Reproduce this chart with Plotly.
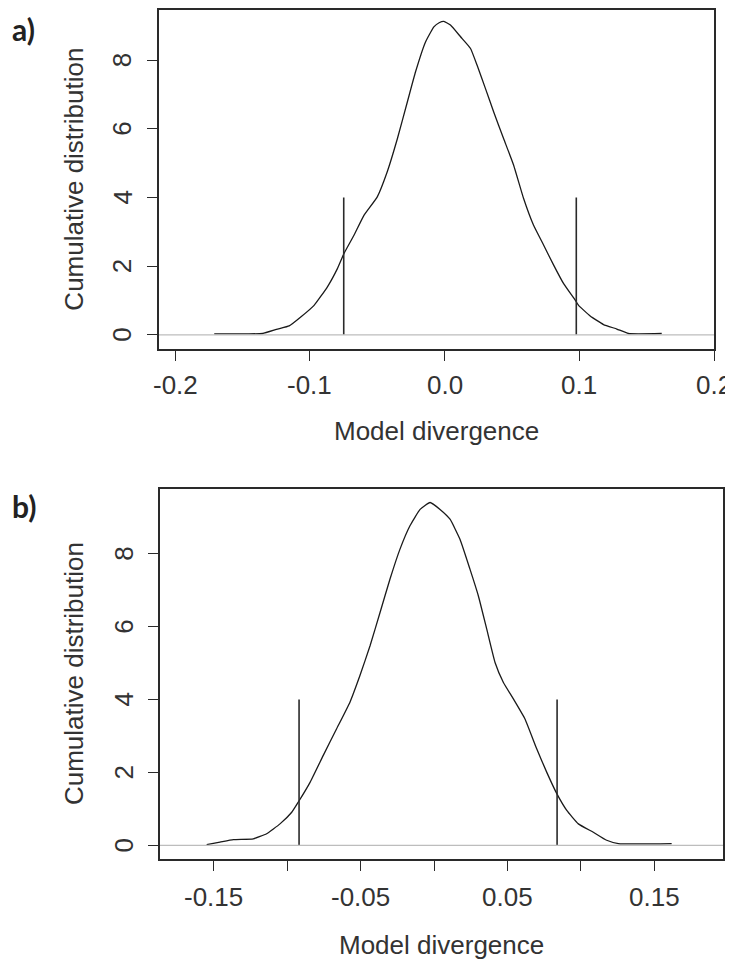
import plotly.graph_objects as go

W, H = 733, 965
OFF = 8  # default page body margin
FW, FH = W - OFF, H - OFF

# ---------------- Data ----------------
a_x = [-0.1709, -0.158, -0.1462, -0.135, -0.1239, -0.1153, -0.1067, -0.0968,
       -0.0869, -0.0795, -0.0746, -0.0672, -0.0598, -0.0499, -0.0425, -0.035, -0.0276, -0.0215,
       -0.0141, -0.0079, -0.0040, -0.0005, 0.0044, 0.0119, 0.0193, 0.0242, 0.0304, 0.0365,
       0.0439, 0.0513, 0.0587, 0.0661, 0.0736, 0.081, 0.0884, 0.097, 0.0995, 0.1081,
       0.118, 0.1279, 0.1365, 0.1612]
a_y = [0.03, 0.03, 0.03, 0.04, 0.17, 0.26, 0.52, 0.86,
       1.40, 1.93, 2.37, 2.90, 3.48, 4.02, 4.75, 5.71, 6.78, 7.66,
       8.53, 8.97, 9.09, 9.13, 9.02, 8.68, 8.34, 7.85, 7.17, 6.49,
       5.71, 4.94, 3.97, 3.19, 2.61, 2.03, 1.49, 1.01, 0.86, 0.55,
       0.30, 0.17, 0.04, 0.04]
a_lines = [-0.0748, 0.0978]
a_line_height = 4

b_x = [-0.155, -0.1459, -0.1368, -0.1232, -0.1141, -0.105, -0.097, -0.0925, -0.0845, -0.0755,
       -0.0664, -0.0573, -0.0505, -0.0436, -0.0368, -0.030, -0.0232, -0.0164, -0.0095, -0.0027,
       0.0041, 0.0109, 0.0177, 0.0245, 0.0302, 0.0359, 0.0416, 0.0473, 0.0541, 0.062,
       0.070, 0.0768, 0.0837, 0.0905, 0.0984, 0.1086, 0.1177, 0.1257, 0.162]
b_y = [0.02, 0.09, 0.16, 0.18, 0.32, 0.59, 0.91, 1.19, 1.73, 2.47,
       3.20, 3.93, 4.66, 5.48, 6.39, 7.31, 8.13, 8.77, 9.22, 9.41,
       9.22, 8.95, 8.40, 7.58, 6.85, 5.94, 5.02, 4.47, 4.02, 3.47,
       2.65, 2.01, 1.42, 0.96, 0.59, 0.36, 0.14, 0.05, 0.05]
b_lines = [-0.092, 0.0839]
b_line_height = 4

a_xticks = [-0.2, -0.1, 0.0, 0.1, 0.2]
a_xticktext = ["-0.2", "-0.1", "0.0", "0.1", "0.2"]
b_xticks = [-0.15, -0.10, -0.05, 0.0, 0.05, 0.10, 0.15]
b_xticktext = ["-0.15", "", "-0.05", "", "0.05", "", "0.15"]
yticks = [0, 2, 4, 6, 8]
yticktext = ["0", "2", "4", "6", "8"]

x_title = "Model divergence"
y_title = "Cumulative distribution"
panel_labels = ["a)", "b)"]

# ---------------- Layout geometry (page pixels) ----------------
boxes = {
    "a": dict(l=159, r=714, t=8, b=348, xr=[-0.2119, 0.2], yr=[-0.42, 9.46],
              xtick_y=384, ytick_x=122, xtitle_y=430, ytitle_x=74, lab=(23, 27)),
    "b": dict(l=160, r=723, t=488, b=859, xr=[-0.1868, 0.197], yr=[-0.38, 9.78],
              xtick_y=897, ytick_x=124, xtitle_y=945, ytitle_x=74, lab=(24, 505)),
}

def px(x):
    return min(1, max(0, (x - OFF) / FW))

def py(y):
    return min(1, max(0, 1 - (y - OFF) / FH))

TXT = "#333333"
LINE = "#2a2a2a"
FONT = "Liberation Sans, Arial, sans-serif"
FS = 26

fig = go.Figure()
ann = []

def add_panel(key, xs, ys, vlines, vh, xticks, xtext, xa, ya, lab):
    xref = "x" if xa == "xaxis" else "x2"
    yref = "y" if ya == "yaxis" else "y2"
    bx = boxes[key]
    fig.add_trace(go.Scatter(x=xs, y=ys, mode="lines",
                             line=dict(color="#1a1a1a", width=1.3, shape="spline", smoothing=0.4),
                             xaxis=xref, yaxis=yref, showlegend=False, hoverinfo="skip"))
    for v in vlines:
        fig.add_trace(go.Scatter(x=[v, v], y=[0, vh], mode="lines",
                                 line=dict(color=LINE, width=1.6),
                                 xaxis=xref, yaxis=yref, showlegend=False, hoverinfo="skip"))
    fig.add_shape(type="line", xref=f"{xref} domain", yref=yref, x0=0, x1=1, y0=0, y1=0,
                  line=dict(color="#bdbdbd", width=1.3), layer="above")
    axcommon = dict(showgrid=False, zeroline=False, showline=True, mirror=True,
                    linecolor=LINE, linewidth=1.6, ticks="outside", ticklen=10,
                    tickwidth=1.4, tickcolor=LINE, showticklabels=False)
    fig.update_layout(**{
        xa: dict(domain=[px(bx["l"]), px(bx["r"])], range=bx["xr"], anchor=yref,
                 tickvals=xticks, **axcommon),
        ya: dict(domain=[py(bx["b"]), py(bx["t"])], range=bx["yr"], anchor=xref,
                 tickvals=yticks, **axcommon),
    })
    for v, t in zip(xticks, xtext):
        if t:
            ann.append(dict(text=t, x=v, y=py(bx["xtick_y"]), xref=xref, yref="paper",
                            showarrow=False, font=dict(family=FONT, size=FS, color=TXT),
                            xanchor="center", yanchor="middle"))
    for v, t in zip(yticks, yticktext):
        ann.append(dict(text=t, x=px(bx["ytick_x"]), y=v, xref="paper", yref=yref,
                        showarrow=False, textangle=-90,
                        font=dict(family=FONT, size=FS, color=TXT),
                        xanchor="center", yanchor="middle"))
    ann.append(dict(text=x_title, x=px((bx["l"] + bx["r"]) / 2), y=py(bx["xtitle_y"]),
                    xref="paper", yref="paper", showarrow=False,
                    font=dict(family=FONT, size=FS, color=TXT), xanchor="center", yanchor="middle"))
    ann.append(dict(text=y_title, x=px(bx["ytitle_x"]), y=py((bx["t"] + bx["b"]) / 2),
                    xref="paper", yref="paper", showarrow=False, textangle=-90,
                    font=dict(family=FONT, size=FS, color=TXT), xanchor="center", yanchor="middle"))
    ann.append(dict(text=f"<b>{lab}</b>", x=px(bx["lab"][0]), y=py(bx["lab"][1]),
                    xref="paper", yref="paper", showarrow=False,
                    font=dict(family="Lato, Open Sans, sans-serif", size=30, color="#222222"),
                    xanchor="center", yanchor="middle"))

add_panel("a", a_x, a_y, a_lines, a_line_height, a_xticks, a_xticktext, "xaxis", "yaxis", panel_labels[0])
add_panel("b", b_x, b_y, b_lines, b_line_height, b_xticks, b_xticktext, "xaxis2", "yaxis2", panel_labels[1])

fig.update_layout(width=FW, height=FH, margin=dict(l=0, r=0, t=0, b=0),
                  paper_bgcolor="white", plot_bgcolor="white", annotations=ann)

fig.write_html("out.html")
